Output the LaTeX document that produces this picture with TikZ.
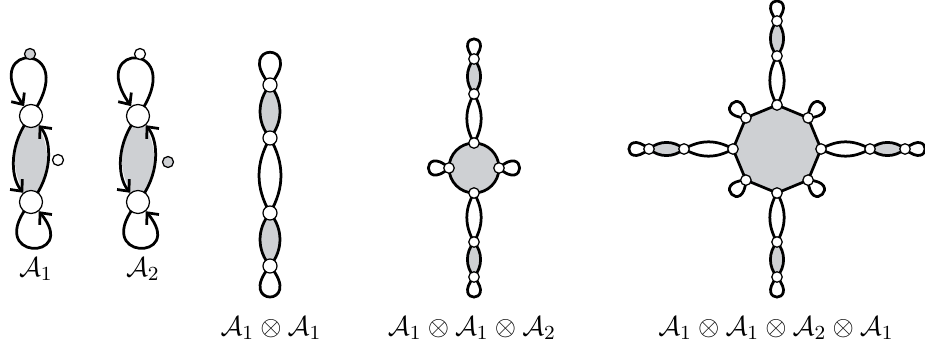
\documentclass[tikz,border=0pt]{standalone}
\usepackage{amsmath}
\usepackage{amssymb}
\usepackage{tikz}
\usetikzlibrary{arrows.meta}

\definecolor{lensgray}{RGB}{206,208,211}
\pgfdeclarelayer{bg}
\pgfsetlayers{bg,main}

\begin{document}
\begin{tikzpicture}[
            x=0.4pt, y=0.4pt,
            vtx/.style={circle, draw, fill=white, inner sep=0pt, line width=0.5pt, minimum size=9.2pt},
            svtx/.style={vtx, minimum size=5.6pt},
            tvtx/.style={vtx, minimum size=4.2pt},
            fdot/.style={vtx, minimum size=4.4pt},
            edge/.style={line width=1.1pt},
            arr/.style={edge, -{Straight Barb[length=3.6pt, width=6.4pt]}, shorten >=4.8pt},
            lbl/.style={font=\fontsize{10.95}{13}\selectfont}
        ]
            \useasboundingbox (0,0) rectangle (925,346);

            % the two automata
            \node[vtx] (a1t) at (31,230) {};
            \node[vtx] (a1b) at (31,144) {};
            \node[fdot, fill=lensgray] (a1d) at (30,292) {};
            \node[fdot] (a1e) at (58,186) {};
            \node[lbl] (a1l) at (36,77) {\(\mathcal{A}_1\)};

            \node[vtx] (a2t) at (138,230) {};
            \node[vtx] (a2b) at (138,144) {};
            \node[fdot] (a2d) at (140,292) {};
            \node[fdot, fill=lensgray] (a2e) at (168,184) {};
            \node[lbl] (a2l) at (143,77) {\(\mathcal{A}_2\)};

            % A1 x A1
            \node[svtx] (c1) at (270,261) {};
            \node[svtx] (c2) at (270,208) {};
            \node[svtx] (c3) at (270,133) {};
            \node[svtx] (c4) at (270,80) {};
            \node[lbl] (cl) at (271,18) {\(\mathcal{A}_1 \otimes \mathcal{A}_1\)};

            % A1 x A1 x A2
            \begin{scope}[shift={(474,178)}]
                \foreach \a in {0,90,180,270}
                    \node[tvtx] (m\a) at (\a:25) {};
                \foreach \a in {90,270} {
                    \node[tvtx] (mp\a) at (\a:74) {};
                    \node[tvtx] (mq\a) at (\a:109) {};
                }
            \end{scope}
            \node[lbl] (ml) at (472,18) {\(\mathcal{A}_1 \otimes \mathcal{A}_1 \otimes \mathcal{A}_2\)};

            % A1 x A1 x A2 x A1
            \begin{scope}[shift={(777,197)}]
                \foreach \a in {0,45,...,315}
                    \node[tvtx] (r\a) at (\a:44) {};
                \foreach \a in {0,90,180,270} {
                    \node[tvtx] (rp\a) at (\a:93) {};
                    \node[tvtx] (rq\a) at (\a:128) {};
                }
            \end{scope}
            \node[lbl] (rl) at (776,18) {\(\mathcal{A}_1 \otimes \mathcal{A}_1 \otimes \mathcal{A}_2 \otimes \mathcal{A}_1\)};

            \begin{pgfonlayer}{bg}
                % automata edges
                \foreach \n in {a1, a2} {
                    \fill[lensgray] (\n t.center) to[bend right=40] (\n b.center) to[bend right=40] (\n t.center);
                    \draw[arr] (\n t.center) to[bend right=40] (\n b.center);
                    \draw[arr] (\n b.center) to[bend right=40] (\n t.center);
                    \draw[arr] (\n t.center) .. controls +(55:92) and +(125:92) .. (\n t.center);
                    \draw[arr] (\n b.center) .. controls +(230:78) and +(310:78) .. (\n b.center);
                }

                % chain
                \draw[edge] (c1.center) .. controls +(50:57) and +(130:57) .. (c1.center);
                \draw[edge, fill=lensgray] (c1.center) to[bend right=40] (c2.center) to[bend right=40] (c1.center);
                \draw[edge] (c2.center) to[bend right=30] (c3.center) to[bend right=30] (c2.center);
                \draw[edge, fill=lensgray] (c3.center) to[bend right=40] (c4.center) to[bend right=40] (c3.center);
                \draw[edge] (c4.center) .. controls +(230:54) and +(310:54) .. (c4.center);

                % circle with two arms
                \draw[edge, fill=lensgray] (m90.center) to[bend right=45] (m180.center) to[bend right=45] (m270.center)
                    to[bend right=45] (m0.center) to[bend right=45] (m90.center);
                \foreach \a in {90,270} {
                    \draw[edge] (m\a.center) to[bend right=30] (mp\a.center) to[bend right=30] (m\a.center);
                    \draw[edge, fill=lensgray] (mp\a.center) to[bend right=40] (mq\a.center) to[bend right=40] (mp\a.center);
                    \draw[edge] (mq\a.center) .. controls +({\a-40}:35) and +({\a+40}:35) .. (mq\a.center);
                }
                \foreach \a in {0,180}
                    \draw[edge] (m\a.center) .. controls +({\a-42}:37) and +({\a+42}:37) .. (m\a.center);

                % octagon with four arms
                \draw[edge, fill=lensgray] (r0.center) -- (r45.center) -- (r90.center) -- (r135.center) -- (r180.center)
                    -- (r225.center) -- (r270.center) -- (r315.center) -- cycle;
                \foreach \a in {0,90,180,270} {
                    \draw[edge] (r\a.center) to[bend right=30] (rp\a.center) to[bend right=30] (r\a.center);
                    \draw[edge, fill=lensgray] (rp\a.center) to[bend right=40] (rq\a.center) to[bend right=40] (rp\a.center);
                    \draw[edge] (rq\a.center) .. controls +({\a-40}:35) and +({\a+40}:35) .. (rq\a.center);
                }
                \foreach \a in {45,135,225,315}
                    \draw[edge] (r\a.center) .. controls +({\a-42}:36) and +({\a+42}:36) .. (r\a.center);
            \end{pgfonlayer}
        \end{tikzpicture}
\end{document}
